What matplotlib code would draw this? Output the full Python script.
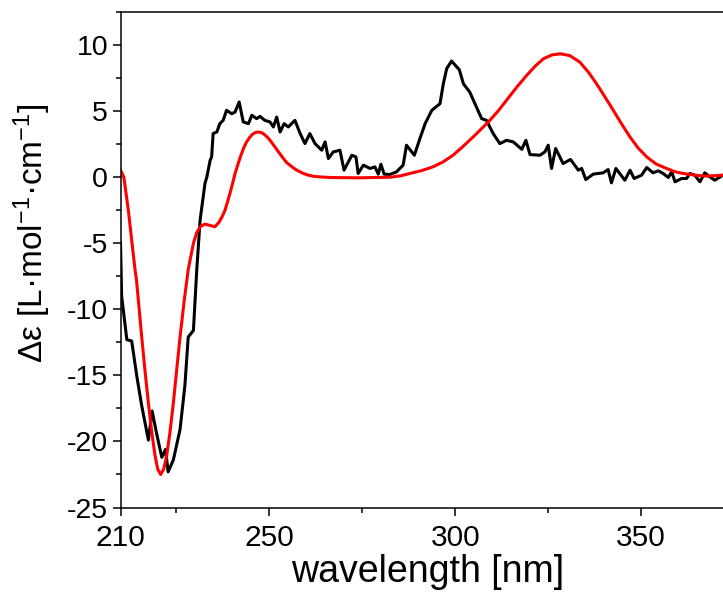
#!/usr/bin/env python
# -*- coding: utf-8 -*-
"""CD spectrum: experimental (black) vs calculated (red)."""

import matplotlib
matplotlib.use("Agg")
import matplotlib.pyplot as plt
from matplotlib.ticker import MultipleLocator

# experimental CD spectrum (nm, delta epsilon)
exp_nm = [210.0, 210.3, 211.7, 213.0, 214.4, 215.7, 217.5, 218.5, 219.7, 221.1,
          222.1, 222.8, 224.2, 226.0, 227.3, 228.2, 229.6, 230.5, 231.4, 232.7,
          233.2, 234.1, 234.5, 234.9, 235.9, 236.7, 237.6, 238.5, 239.9, 240.8,
          241.9, 243.0, 244.4, 245.3, 246.6, 247.5, 248.8, 250.2, 251.1, 252.0,
          252.9, 254.0, 255.1, 256.9, 258.3, 259.6, 260.9, 262.3, 264.1, 265.0,
          265.9, 267.2, 269.0, 270.1, 272.2, 273.3, 273.9, 275.3, 277.1, 278.4,
          279.3, 280.0, 280.9, 282.4, 284.2, 286.0, 286.9, 289.0, 290.5, 291.9,
          293.7, 295.9, 296.8, 297.7, 299.0, 301.1, 302.2, 303.9, 305.3, 307.1,
          308.4, 310.2, 312.0, 313.8, 315.6, 317.9, 319.0, 320.1, 322.8, 324.1,
          325.0, 325.9, 327.0, 329.0, 331.0, 333.1, 334.0, 335.1, 337.1, 339.8,
          341.1, 342.0, 343.2, 345.6, 347.0, 348.1, 350.1, 351.5, 353.2, 354.6,
          355.9, 357.3, 358.2, 359.1, 360.9, 362.2, 363.1, 364.4, 365.8, 367.1,
          368.5, 369.8, 372.0]
exp_de = [-5.0, -9.0, -12.3, -12.4, -15.1, -17.3, -19.9, -17.7, -19.4, -21.2,
          -20.6, -22.3, -21.4, -19.1, -15.8, -12.1, -11.6, -7.0, -3.25, -0.48,
          0.0, 1.28, 1.53, 3.3, 3.42, 4.05, 4.3, 5.06, 4.8, 4.93,
          5.69, 4.18, 4.05, 4.68, 4.43, 4.6, 4.3, 4.18, 3.8, 4.55,
          3.42, 4.05, 3.8, 4.3, 3.3, 2.54, 3.3, 2.54, 2.04, 2.67,
          1.41, 1.91, 2.04, 0.53, 1.66, 1.53, 0.28, 0.91, 0.66, 0.78,
          0.23, 0.98, 0.23, 0.2, 0.4, 0.91, 2.42, 1.66, 2.92, 4.05,
          5.06, 5.56, 7.07, 8.21, 8.79, 8.13, 7.07, 6.44, 5.56, 4.43,
          4.3, 3.3, 2.54, 2.79, 2.67, 2.11, 2.79, 1.71, 1.66, 1.91,
          2.42, 0.66, 2.17, 1.03, 1.34, 0.53, 0.66, -0.18, 0.23, 0.33,
          0.58, -0.43, 0.66, -0.23, 0.53, -0.1, 0.15, 0.73, 0.33, 0.48,
          0.28, -0.02, 0.4, -0.35, -0.1, -0.1, 0.28, 0.15, -0.35, 0.33,
          0.02, -0.23, 0.15]

# calculated CD spectrum (nm, delta epsilon)
calc_nm = [210.0, 210.9, 212.1, 213.4, 213.9, 214.3, 215.7, 216.6, 217.5, 218.4,
           219.3, 220.0, 220.8, 221.6, 222.4, 223.3, 224.2, 225.1, 226.0, 227.1,
           228.2, 229.6, 230.5, 231.4, 232.7, 234.0, 235.4, 236.5, 237.3, 238.1,
           239.0, 239.9, 240.8, 241.6, 242.3, 243.1, 243.9, 244.7, 245.5, 246.3,
           247.0, 247.8, 248.6, 249.4, 250.2, 251.1, 252.0, 252.9, 253.8, 254.7,
           255.6, 256.5, 257.4, 259.0, 260.5, 262.0, 263.7, 266.0, 268.0, 274.0,
           282.6, 285.3, 287.8, 291.0, 294.0, 296.7, 299.4, 302.0, 304.8, 307.0,
           309.3, 311.5, 313.8, 316.5, 319.2, 321.5, 323.7, 326.0, 328.3, 330.8,
           333.5, 335.8, 338.0, 340.2, 342.5, 344.8, 347.0, 349.2, 351.5, 354.0,
           356.8, 359.0, 361.3, 364.5, 367.6, 372.0]
calc_de = [0.53, 0.0, -2.5, -5.76, -7.0, -7.8, -12.1, -14.7, -17.1, -19.3,
           -21.1, -22.1, -22.5, -22.1, -21.1, -19.3, -17.1, -14.6, -12.1, -9.4,
           -7.0, -5.0, -4.2, -3.75, -3.55, -3.65, -3.75, -3.4, -3.0, -2.5,
           -1.65, -0.73, 0.28, 1.0, 1.6, 2.2, 2.67, 3.0, 3.25, 3.38,
           3.42, 3.38, 3.25, 3.05, 2.79, 2.45, 2.1, 1.75, 1.41, 1.1,
           0.9, 0.7, 0.53, 0.3, 0.15, 0.06, 0.02, -0.02, -0.03, -0.05,
           0.0, 0.1, 0.28, 0.5, 0.78, 1.15, 1.66, 2.3, 3.04, 3.65,
           4.3, 5.0, 5.82, 6.8, 7.7, 8.4, 8.96, 9.25, 9.34, 9.2,
           8.71, 7.95, 7.07, 6.1, 5.06, 4.0, 3.04, 2.2, 1.53, 1.0,
           0.66, 0.42, 0.28, 0.15, 0.08, 0.15]


def main():
    plt.rcParams['font.family'] = ['Liberation Sans', 'DejaVu Sans']
    plt.rcParams['mathtext.fontset'] = 'custom'
    plt.rcParams['mathtext.rm'] = 'Liberation Sans'
    plt.rcParams['mathtext.default'] = 'regular'
    plt.rcParams['axes.unicode_minus'] = False

    fig = plt.figure(figsize=(7.23, 5.94), dpi=100)
    ax = fig.add_axes([0.1667, 0.1456, 0.8333, 0.8342])

    ax.plot(exp_nm, exp_de, color='black', linewidth=2.2)
    ax.plot(calc_nm, calc_de, color='#ff0000', linewidth=2.2)

    ax.set_xlim(210, 372)
    ax.set_ylim(-25, 12.5)
    ax.set_xticks([210, 250, 300, 350])
    ax.xaxis.set_minor_locator(MultipleLocator(25))
    ax.yaxis.set_major_locator(MultipleLocator(5))
    ax.yaxis.set_minor_locator(MultipleLocator(2.5))

    ax.tick_params(which='both', direction='out', width=1.1,
                   top=False, right=False)
    ax.tick_params(which='major', length=6)
    ax.tick_params(which='minor', length=3.5)
    ax.tick_params(axis='x', which='major', labelsize=21.5, pad=6)
    ax.tick_params(axis='y', which='major', labelsize=20.5, pad=3)
    for side in ('left', 'bottom', 'top'):
        ax.spines[side].set_linewidth(1.1)
    ax.spines['right'].set_visible(False)

    ax.set_xlabel("wavelength [nm]", fontsize=27)
    ax.set_ylabel(r"Δε [L·mol$^{-1}$·cm$^{-1}$]", fontsize=24)
    ax.xaxis.set_label_coords(0.5095, -0.094)
    ax.yaxis.set_label_coords(-0.112, 0.553)

    fig.savefig("out.png", dpi=100)
    plt.close(fig)


if __name__ == "__main__":
    main()
